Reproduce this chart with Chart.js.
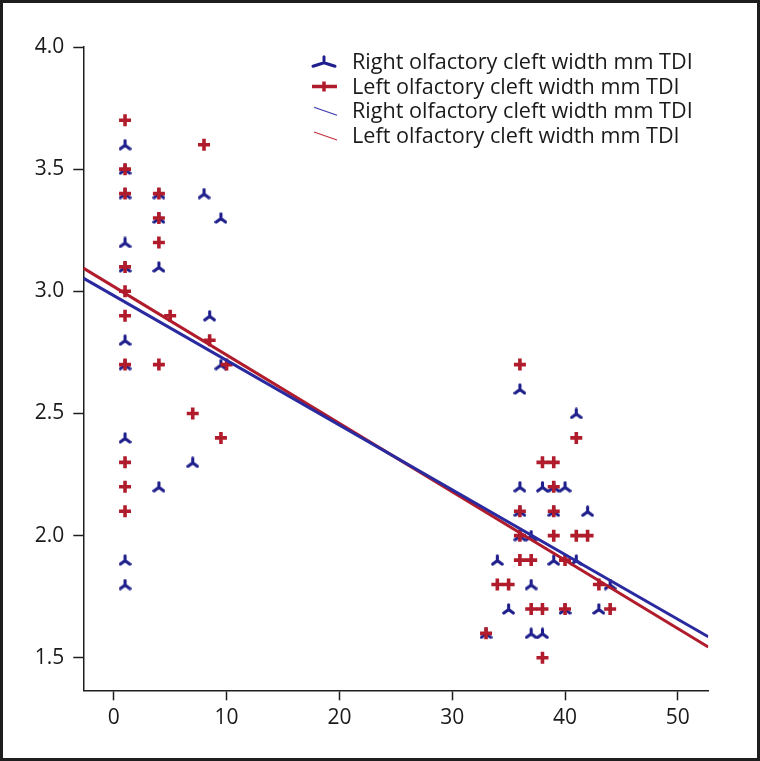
<!DOCTYPE html>
<html>
<head>
<meta charset="utf-8">
<script src="https://cdn.jsdelivr.net/npm/chart.js@4.4.1/dist/chart.umd.min.js"></script>
<style>
html, body { margin: 0; padding: 0; background: #fff; }
#frame { width: 760px; height: 761px; box-sizing: border-box; border: 3px solid #1e1e1e; background: #fff; }
#chart { display: block; }
</style>
</head>
<body>
<div id="frame"><canvas id="chart" width="754" height="755"></canvas></div>
<script>
// series labels
const seriesLabels = ['Right olfactory cleft width mm TDI', 'Left olfactory cleft width mm TDI'];

// right olfactory cleft (blue)
const rightX = [1, 1, 1, 1, 1, 1, 1, 1, 1, 1, 4, 4, 4, 4, 8, 9.5, 8.5, 9.5, 7,
    36, 41, 36, 38, 39, 40, 36, 39, 42, 36, 37, 34, 39, 41, 37, 44, 35, 40, 43, 33, 37, 38];
const rightY = [3.6, 3.5, 3.4, 3.2, 3.1, 2.8, 2.7, 2.4, 1.9, 1.8, 3.4, 3.3, 3.1, 2.2, 3.4, 3.3, 2.9, 2.7, 2.3,
    2.6, 2.5, 2.2, 2.2, 2.2, 2.2, 2.1, 2.1, 2.1, 2.0, 2.0, 1.9, 1.9, 1.9, 1.8, 1.8, 1.7, 1.7, 1.7, 1.6, 1.6, 1.6];

// left olfactory cleft (red)
const leftX = [1, 1, 1, 1, 1, 1, 1, 1, 1, 1, 4, 4, 4, 4, 8, 5, 8.5, 10, 7, 9.5,
    36, 41, 38, 39, 39, 36, 39, 36, 39, 41, 42, 36, 37, 40, 34, 35, 43, 37, 38, 40, 44, 33, 38];
const leftY = [3.7, 3.5, 3.4, 3.1, 3.0, 2.9, 2.7, 2.3, 2.2, 2.1, 3.4, 3.3, 3.2, 2.7, 3.6, 2.9, 2.8, 2.7, 2.5, 2.4,
    2.7, 2.4, 2.3, 2.3, 2.2, 2.1, 2.1, 2.0, 2.0, 2.0, 2.0, 1.9, 1.9, 1.9, 1.8, 1.8, 1.8, 1.7, 1.7, 1.7, 1.7, 1.6, 1.5];

// fitted lines, values at the ends of the x axis
const fitX = [-2.7, 52.7];
const rightFit = [3.054, 1.586];
const leftFit = [3.095, 1.544];

// axes
const xTicks = [0, 10, 20, 30, 40, 50];
const yTicks = [1.5, 2.0, 2.5, 3.0, 3.5, 4.0];
const yMin = 1.367;

const BLUE = '#1e1e8c';
const RED = '#b01c2b';
const FONT = "'Open Sans', 'DejaVu Sans', sans-serif";

function toPoints(xs, ys) {
    return xs.map((x, i) => ({ x: x, y: ys[i] }));
}

// blue three-armed marker
function makeTri(w, h, lw) {
    const c = document.createElement('canvas');
    c.width = w; c.height = h;
    const g = c.getContext('2d');
    const cx = w / 2, cy = h * 0.55;
    g.strokeStyle = BLUE;
    g.lineWidth = lw;
    g.lineCap = 'round';
    g.beginPath();
    g.moveTo(cx, cy); g.lineTo(cx, 1.8);
    g.moveTo(cx, cy); g.lineTo(1.8, h - 2);
    g.moveTo(cx, cy); g.lineTo(w - 1.8, h - 2);
    g.stroke();
    return c;
}

const triMarker = makeTri(13, 12, 3.1);

const data = {
    datasets: [
        {
            label: seriesLabels[0] + ' fit',
            type: 'line',
            data: toPoints(fitX, rightFit),
            borderColor: '#2a2aa0',
            borderWidth: 3,
            pointRadius: 0,
            fill: false,
            order: 0
        },
        {
            label: seriesLabels[1] + ' fit',
            type: 'line',
            data: toPoints(fitX, leftFit),
            borderColor: RED,
            borderWidth: 3,
            pointRadius: 0,
            fill: false,
            order: 1
        },
        {
            label: seriesLabels[1],
            data: toPoints(leftX, leftY),
            pointStyle: 'cross',
            pointRadius: 6,
            borderWidth: 3.6,
            borderColor: RED,
            backgroundColor: RED,
            order: 2
        },
        {
            label: seriesLabels[0],
            data: toPoints(rightX, rightY),
            pointStyle: triMarker,
            pointRadius: 6,
            borderColor: BLUE,
            backgroundColor: BLUE,
            order: 3
        }
    ]
};

// legend drawn inside the plot, top right
const insideLegend = {
    id: 'insideLegend',
    afterDraw(chart) {
        const ctx = chart.ctx;
        const ix = 321, tx = 349;
        const rows = [58.7, 83.5, 108.3, 133];
        const labels = [seriesLabels[0], seriesLabels[1], seriesLabels[0], seriesLabels[1]];
        ctx.save();
        ctx.lineCap = 'round';
        // tri
        ctx.strokeStyle = BLUE; ctx.lineWidth = 3;
        ctx.beginPath();
        ctx.moveTo(ix, rows[0] + 1); ctx.lineTo(ix, rows[0] - 5);
        ctx.moveTo(ix, rows[0] + 1); ctx.lineTo(ix - 11, rows[0] + 4.5);
        ctx.moveTo(ix, rows[0] + 1); ctx.lineTo(ix + 11, rows[0] + 4.5);
        ctx.stroke();
        // plus
        ctx.strokeStyle = RED; ctx.lineWidth = 3.5; ctx.lineCap = 'butt';
        ctx.beginPath();
        ctx.moveTo(ix - 12, rows[1]); ctx.lineTo(ix + 13, rows[1]);
        ctx.moveTo(ix, rows[1] - 5); ctx.lineTo(ix, rows[1] + 5);
        ctx.stroke();
        // lines
        ctx.lineWidth = 1.2;
        ctx.strokeStyle = '#3a3ab0';
        ctx.beginPath(); ctx.moveTo(ix - 10, rows[2] - 4); ctx.lineTo(ix + 13, rows[2] + 4); ctx.stroke();
        ctx.strokeStyle = '#c0303c';
        ctx.beginPath(); ctx.moveTo(ix - 10, rows[3] - 4); ctx.lineTo(ix + 13, rows[3] + 4); ctx.stroke();
        // text
        ctx.fillStyle = '#1a1a1a';
        ctx.font = '21.6px ' + FONT;
        ctx.textBaseline = 'middle';
        labels.forEach((t, i) => ctx.fillText(t, tx, rows[i] + 1));
        ctx.restore();
    }
};

new Chart(document.getElementById('chart'), {
    type: 'scatter',
    data: data,
    plugins: [insideLegend],
    options: {
        responsive: false,
        animation: false,
        layout: { padding: { left: 0, top: 44, right: 48.7, bottom: 0 } },
        plugins: { legend: { display: false }, tooltip: { enabled: false } },
        scales: {
            x: {
                type: 'linear',
                min: fitX[0],
                max: fitX[1],
                afterFit: s => { s.height = 67.7; },
                afterBuildTicks: s => { s.ticks = xTicks.map(v => ({ value: v })); },
                border: { display: true, color: '#1e1e1e', width: 1.5 },
                grid: { drawOnChartArea: false, drawTicks: true, tickLength: 10, tickColor: '#1e1e1e', tickWidth: 1.5 },
                ticks: { color: '#1a1a1a', font: { family: FONT, size: 21 }, padding: 5, maxRotation: 0 }
            },
            y: {
                type: 'linear',
                min: yMin,
                max: yTicks[yTicks.length - 1],
                afterFit: s => { s.width = 80.3; },
                afterBuildTicks: s => { s.ticks = yTicks.map(v => ({ value: v })); },
                border: { display: true, color: '#1e1e1e', width: 1.5 },
                grid: { drawOnChartArea: false, drawTicks: true, tickLength: 10, tickColor: '#1e1e1e', tickWidth: 1.5 },
                ticks: { color: '#1a1a1a', font: { family: FONT, size: 21 }, padding: 9, callback: v => v.toFixed(1) }
            }
        }
    }
});
</script>
</body>
</html>
